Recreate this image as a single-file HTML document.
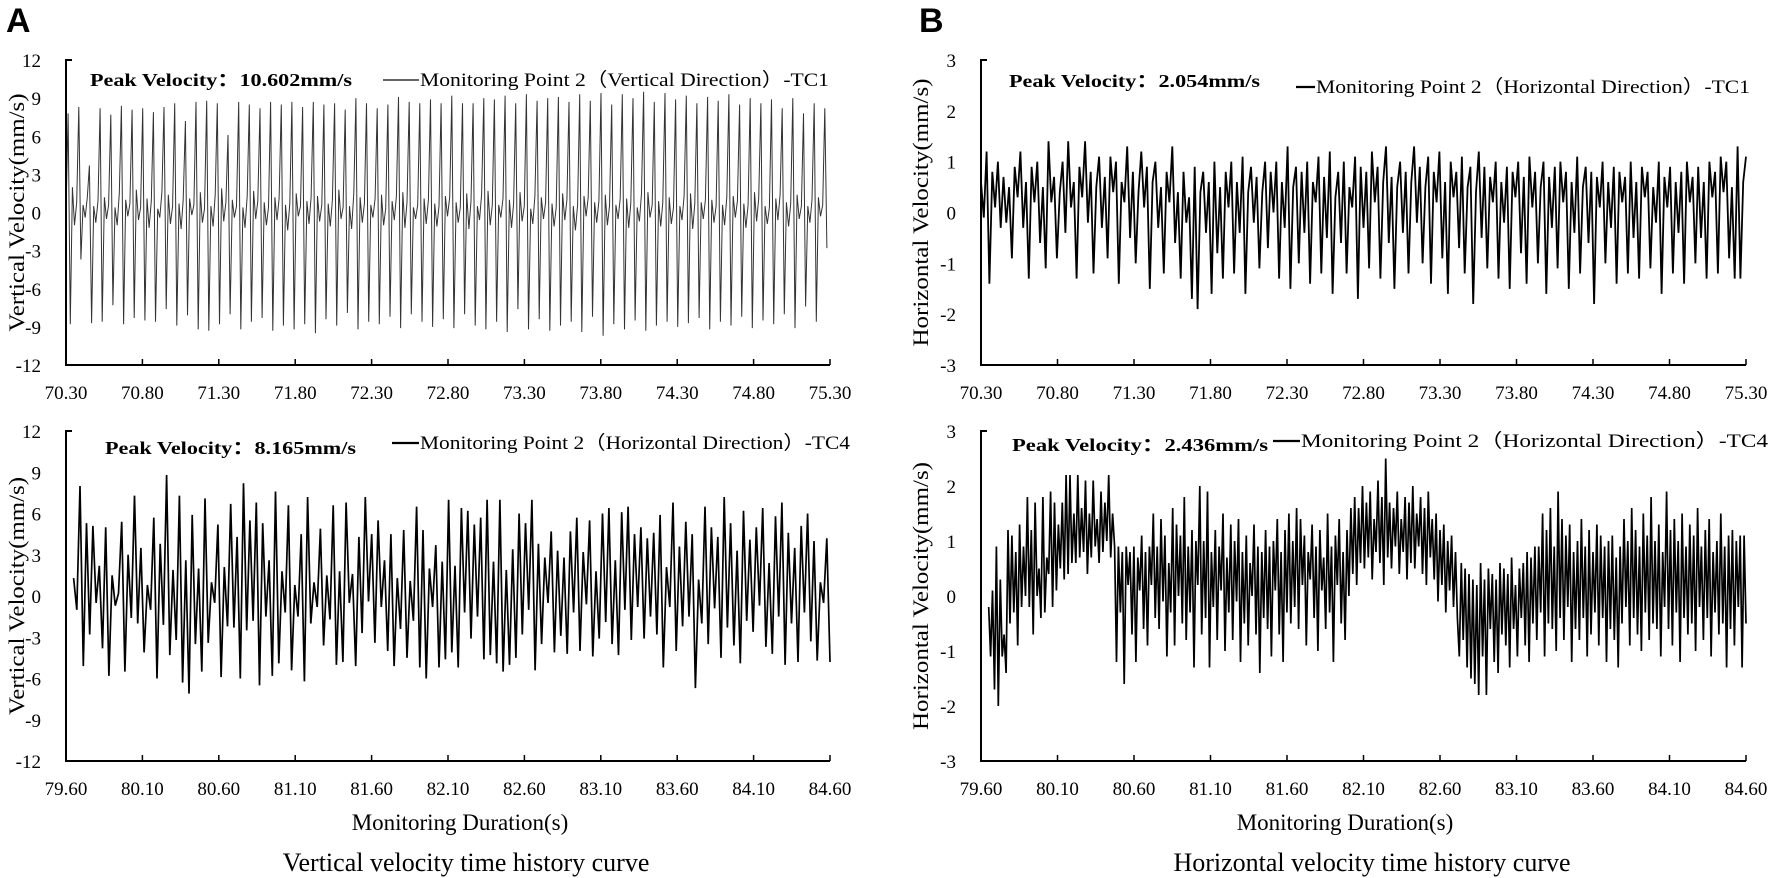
<!DOCTYPE html>
<html><head><meta charset="utf-8"><style>
html,body{margin:0;padding:0;background:#fff;}
svg{display:block;}
text{font-family:"Liberation Serif",serif;fill:#000;}
.pl{font-family:"Liberation Sans",sans-serif;font-weight:bold;font-size:34px;}
</style></head><body>
<svg id="fig" width="1772" height="878" viewBox="0 0 1772 878" xmlns="http://www.w3.org/2000/svg">
<text class="pl" x="6" y="32">A</text>
<text class="pl" x="919" y="32">B</text>
<text x="460" y="830" font-size="23" text-anchor="middle">Monitoring Duration(s)</text>
<text x="1345" y="830" font-size="23" text-anchor="middle">Monitoring Duration(s)</text>
<text x="466" y="871" font-size="26" text-anchor="middle">Vertical velocity time history curve</text>
<text x="1372" y="871" font-size="26" text-anchor="middle">Horizontal velocity time history curve</text>
</svg>
<script>
const xTicksTop = ["70.30","70.80","71.30","71.80","72.30","72.80","73.30","73.80","74.30","74.80","75.30"];
const xTicksBot = ["79.60","80.10","80.60","81.10","81.60","82.10","82.60","83.10","83.60","84.10","84.60"];
const yTicksV = [-12,-9,-6,-3,0,3,6,9,12];
const yTicksH = [-3,-2,-1,0,1,2,3];
const tRangeTop = [70.30, 75.28];
const tRangeBot = [79.65, 84.60];
const vertTC1 = [0.0,7.8,-8.8,2.0,-1.0,0.8,8.3,-3.7,0.6,-0.4,1.2,3.7,-8.7,0.5,-0.8,0.9,8.2,-8.6,1.2,-0.5,0.6,7.7,-7.3,0.4,-1.0,1.5,8.4,-8.8,1.0,-0.3,0.7,8.1,-8.3,1.8,-0.6,0.4,8.2,-8.5,1.1,-1.2,0.9,7.9,-8.6,0.3,-0.4,1.6,8.3,-7.6,1.4,-0.9,0.5,8.6,-8.9,0.7,-1.3,1.0,7.2,-8.1,1.1,-0.2,0.6,8.7,-9.2,1.6,-0.8,0.3,8.8,-9.3,0.5,-1.1,1.4,8.6,-8.8,1.9,-0.7,0.8,6.1,-8.0,1.0,-0.4,0.5,8.7,-9.2,0.4,-1.2,1.3,8.5,-8.6,1.7,-0.5,0.9,8.2,-8.3,0.8,-1.0,0.4,8.7,-9.3,1.2,-0.6,1.1,8.5,-8.9,0.6,-1.4,0.7,8.7,-9.2,1.5,-0.3,0.5,8.3,-8.8,0.9,-0.9,1.2,8.7,-9.5,1.3,-0.7,0.6,8.5,-8.4,0.7,-1.1,1.0,8.6,-8.9,1.8,-0.5,0.4,8.1,-7.9,0.5,-1.3,1.5,9.0,-9.2,1.2,-0.8,0.7,8.6,-8.6,0.6,-0.4,1.1,8.2,-8.8,1.4,-1.0,0.3,8.5,-8.2,0.9,-0.6,1.3,9.1,-9.1,1.6,-1.2,0.8,8.7,-8.0,0.4,-0.5,0.6,8.6,-8.6,1.1,-0.9,1.0,8.9,-9.0,0.7,-1.1,0.5,8.6,-8.4,1.3,-0.3,1.2,9.2,-9.1,0.8,-0.8,0.4,8.6,-8.0,1.5,-1.3,0.9,8.6,-8.9,0.5,-0.6,1.4,9.0,-9.2,1.7,-1.0,0.6,8.9,-8.6,0.6,-0.4,1.1,9.2,-9.4,1.0,-1.2,0.7,8.6,-7.6,1.6,-0.7,0.5,9.3,-9.2,0.3,-0.9,1.3,8.8,-8.4,1.2,-0.5,0.8,9.0,-9.3,0.7,-1.1,0.4,9.1,-8.9,1.5,-0.6,1.0,8.7,-8.6,0.5,-1.4,0.6,9.3,-9.4,1.3,-0.3,1.2,8.8,-8.2,0.8,-0.8,0.9,9.4,-9.7,1.4,-1.0,0.5,8.5,-8.8,0.6,-0.5,1.1,9.3,-9.2,1.1,-1.2,0.7,9.0,-8.5,0.4,-0.7,1.5,9.5,-9.3,1.6,-0.4,0.6,8.7,-8.9,0.9,-1.1,0.8,9.4,-8.6,1.2,-0.9,0.4,8.9,-9.0,0.5,-0.6,1.3,9.2,-8.7,1.5,-1.3,0.7,8.6,-8.3,0.8,-0.5,1.0,9.1,-9.2,1.0,-0.8,0.5,8.8,-8.6,0.6,-1.0,1.2,9.3,-8.9,1.3,-0.4,0.9,8.5,-8.2,0.7,-1.2,0.6,9.0,-9.1,1.6,-0.7,1.1,8.6,-8.5,0.5,-0.9,0.4,8.9,-8.8,1.1,-0.6,1.4,8.2,-8.0,0.8,-1.1,0.7,9.0,-9.1,1.4,-0.5,0.5,7.8,-7.4,0.5,-0.8,1.0,8.6,-8.6,1.2,-0.3,0.6,8.2,-2.8];
const vertTC4 = [1.3,-1.0,8.0,-5.1,5.3,-2.8,5.1,-0.5,2.2,-3.8,5.0,-5.8,1.5,-0.7,0.2,5.4,-5.5,3.0,-1.6,7.3,-2.0,3.5,-4.1,0.8,-1.0,5.7,-6.0,3.8,-2.1,8.8,-4.3,1.9,-3.2,7.3,-6.3,2.6,-7.1,5.9,-3.5,2.0,-5.5,7.1,-3.4,1.0,-0.5,5.2,-5.9,2.1,-2.2,6.7,-2.3,4.3,-6.0,8.2,-2.5,5.5,-1.8,6.8,-6.5,5.3,-1.5,2.6,-5.8,7.6,-4.9,1.8,-1.2,6.6,-5.4,0.8,-1.5,4.5,-6.2,7.2,-2.0,1.0,-0.8,4.9,-3.6,1.5,-1.7,6.6,-5.0,1.8,-4.8,6.8,-0.5,1.6,-5.1,4.3,-2.7,7.2,-0.4,4.5,-3.4,5.5,-0.8,2.6,-4.0,4.5,-5.1,1.3,-2.4,4.8,-4.5,1.1,-1.8,6.5,-5.2,4.8,-6.0,2.0,-0.8,3.7,-5.2,2.5,-4.6,7.0,-4.1,2.2,-5.2,6.4,-1.2,6.2,-3.1,5.2,-1.5,5.7,-4.6,7.0,-4.3,2.5,-4.9,7.0,-5.5,1.9,-5.0,3.4,-4.5,6.0,-2.8,5.3,-1.0,7.0,-5.4,3.8,-3.5,2.8,-0.5,4.7,-4.1,3.3,-2.9,2.8,-4.2,4.7,-1.2,5.7,-4.0,3.2,-0.6,5.5,-4.4,1.8,-3.1,6.0,-1.9,6.4,-3.5,2.6,-4.3,6.1,-1.0,6.5,-3.2,4.5,-0.8,5.0,-3.1,4.2,-1.5,4.6,-2.8,5.9,-5.2,2.1,-0.8,6.8,-4.0,3.6,-2.2,5.4,-1.5,4.5,-6.7,1.2,-2.0,6.5,-3.5,5.0,-0.9,4.3,-4.5,7.2,-2.3,5.3,-3.6,3.3,-4.9,6.2,-1.8,4.1,-2.6,5.0,-0.7,6.4,-3.7,2.4,-4.2,5.8,-1.5,6.8,-5.0,4.6,-2.0,3.5,-4.8,5.1,-1.2,6.0,-3.3,4.0,-4.7,1.0,-0.5,4.2,-4.8];
const horTC1 = [0.6,-0.1,1.2,-1.4,0.8,0.1,1.0,-0.3,0.7,-0.2,0.5,-0.9,0.9,0.3,1.2,-0.3,0.6,-1.3,0.9,0.2,1.0,-0.6,0.5,-1.1,1.4,0.2,0.7,-0.9,0.4,1.0,-0.4,1.4,0.1,0.6,-1.3,0.9,0.3,1.4,-0.2,0.8,-1.2,0.5,1.1,-0.3,0.7,-0.9,1.1,0.4,1.0,-1.4,0.6,0.2,1.3,-0.5,0.8,-1.0,0.4,1.2,0.1,0.9,-1.5,0.6,1.0,-0.3,0.5,-1.2,0.8,0.2,1.3,-0.6,0.4,-1.3,0.8,-0.2,0.3,-1.7,0.9,-1.9,0.4,0.8,-0.4,0.6,-1.6,1.0,-0.8,0.5,-1.3,0.8,0.1,1.0,-1.2,0.6,-0.4,1.1,-1.6,0.4,0.9,-0.2,0.7,-1.1,0.4,1.0,-0.7,0.8,0.0,1.0,-1.3,0.6,-0.3,1.3,-1.5,0.5,0.9,-1.0,0.8,-0.4,1.0,-1.4,0.6,0.2,1.1,-1.2,0.7,-0.5,1.2,-1.6,0.3,0.8,-0.6,1.0,-1.2,0.5,0.1,1.1,-1.7,0.9,-0.3,0.8,-1.1,1.2,0.2,0.9,-1.3,0.6,1.3,-0.6,0.7,-1.5,0.5,1.0,-0.4,0.8,-1.2,0.6,1.3,-0.2,0.9,-1.0,0.5,1.1,-1.4,0.8,0.2,1.2,-0.9,0.6,-1.6,1.0,0.3,0.8,-0.7,1.1,-1.2,0.5,0.9,-1.8,0.4,1.2,-0.5,0.9,-1.1,0.7,0.2,1.0,-1.3,0.6,-0.2,0.9,-1.5,0.8,0.3,1.0,-0.8,0.7,-1.4,1.1,0.1,0.8,-1.0,0.5,1.0,-1.6,0.7,-0.3,0.9,-1.1,1.0,0.2,0.8,-1.5,0.6,-0.4,1.1,-1.2,0.5,0.9,-0.6,0.8,-1.8,0.7,0.1,1.0,-1.0,0.6,-0.3,0.9,-1.4,0.8,0.2,0.7,-1.2,1.0,-0.5,0.6,-1.3,0.9,0.3,0.8,-1.1,0.5,-0.2,1.0,-1.6,0.7,0.1,0.9,-1.2,0.6,-0.4,0.8,-1.4,1.0,0.2,0.7,-1.0,0.9,-0.5,0.6,-1.3,1.0,0.3,0.8,-1.2,1.1,0.4,1.0,-0.9,0.5,-1.3,1.3,-1.3,0.6,1.1];
const horTC4 = [-0.2,-1.1,0.1,-1.7,0.9,-2.0,0.3,-1.1,
 -0.7,-1.4,1.2,-0.5,1.1,-0.3,0.8,-0.9,1.3,-0.2,0.9,0.0,1.8,-0.2,1.2,-0.7,1.7,0.0,0.5,-0.4,1.8,-0.3,0.7,0.4,1.9,-0.2,1.7,0.1,1.3,0.5,1.7,0.3,2.2,0.4,2.2,0.6,1.5,0.6,2.2,0.7,1.6,0.8,2.1,0.4,1.5,0.7,2.1,0.9,1.4,0.6,1.9,0.8,1.7,1.0,2.2,0.7,1.5,0.9,
 -1.2,0.9,-0.3,0.8,-1.6,0.9,0.2,0.8,-0.7,0.9,-1.2,0.7,0.1,1.1,-0.6,0.8,-0.9,0.9,0.2,1.5,-0.4,0.9,-0.6,1.4,-0.1,1.1,-1.1,0.6,-0.3,1.6,-0.9,1.3,0.0,1.1,-0.5,1.8,-0.8,0.9,-0.3,1.2,-1.3,1.0,0.2,2.0,-0.7,1.0,-0.4,1.9,-1.3,0.8,-0.2,1.2,-0.8,0.9,0.1,1.5,-1.0,0.7,-0.3,1.3,-0.8,1.0,-0.1,1.4,-1.2,0.8,-0.5,1.1,-0.9,0.6,0.0,1.3,-0.7,0.9,-1.4,0.8,-0.4,1.2,-0.6,0.9,-1.1,1.0,0.1,1.4,-0.7,0.8,-1.2,1.2,-0.3,1.5,-0.5,1.0,-0.2,1.6,-0.6,1.4,0.2,1.1,-0.9,0.8,0.3,1.3,-0.4,0.9,-1.0,1.2,0.1,0.7,-0.6,1.5,-0.3,0.9,-1.2,1.1,0.2,1.4,-0.5,0.8,-0.8,1.2,0.0,
 1.6,0.4,1.8,0.2,1.6,0.6,2.0,0.5,1.7,0.7,1.9,0.3,1.4,0.8,2.1,0.6,1.8,0.2,2.5,0.7,1.7,0.5,1.6,0.9,1.9,0.4,1.4,0.8,1.8,0.3,1.7,0.6,2.0,0.5,1.5,0.9,1.8,0.4,1.6,0.2,1.9,0.7,1.4,0.3,1.5,-0.1,1.2,0.2,1.3,-0.3,1.0,0.1,1.1,-0.2,0.8,-0.4,
 -1.1,0.6,-0.8,0.5,-1.3,0.4,-1.5,0.3,-1.6,0.2,-1.8,0.6,-1.1,0.3,-1.8,0.5,-0.6,0.4,-1.2,0.3,-1.4,0.6,-0.7,0.5,-0.9,0.4,-1.3,0.7,-0.6,0.2,-1.1,0.5,-0.4,0.6,-0.9,0.8,-1.2,0.7,-0.5,0.9,
 -0.8,0.9,-0.3,1.5,-1.1,1.2,-0.5,1.6,-0.6,0.9,-1.0,1.9,-0.4,1.4,-0.8,1.1,-0.2,1.3,-1.2,0.8,-0.6,1.0,-0.8,1.4,-0.4,0.9,-1.1,1.2,-0.7,0.8,-0.3,1.3,-0.9,1.1,-0.4,0.9,-1.2,1.0,-0.6,1.1,-0.8,0.7,-1.3,0.9,-0.5,1.4,-0.2,1.0,-0.9,1.6,-0.4,1.2,-0.7,0.9,-1.0,1.5,-0.3,1.1,-0.8,1.8,-0.5,1.0,-0.6,1.3,-1.1,0.8,-0.2,1.9,-0.6,1.2,-0.9,1.4,-0.3,1.0,-1.2,1.5,-0.4,0.9,-0.7,1.3,-0.5,1.1,-1.0,1.6,-0.2,0.9,-0.8,1.2,-0.4,1.4,-1.1,0.8,-0.3,1.0,-0.7,1.5,-0.5,0.9,-1.3,1.1,-0.6,1.2,-0.9,1.0,-0.2,1.1,-1.3,1.1,-0.5];

const NS = "http://www.w3.org/2000/svg";
const svg = document.getElementById("fig");
function mk(tag, attrs, parent){ const e=document.createElementNS(NS,tag); for(const k in attrs) e.setAttribute(k,attrs[k]); (parent||svg).appendChild(e); return e; }

function panel(cfg){
  const g = mk("g",{});
  
  
  const yScale = v => cfg.y1 - (v - cfg.ymin)/(cfg.ymax - cfg.ymin)*(cfg.y1 - cfg.y0);
  const tx = cfg.xTicks.map(Number);
  const xScale = t => cfg.x0 + (t - tx[0])/(tx[tx.length-1]-tx[0])*(cfg.x1 - cfg.x0);
  const n = cfg.data.length;
  let d = "";
  cfg.data.forEach((v,i)=>{ const t = cfg.tRange[0] + i*(cfg.tRange[1]-cfg.tRange[0])/(n-1); d += (i?"L":"M")+xScale(t).toFixed(1)+" "+yScale(v).toFixed(1); });
  const p = mk("path",{d:d,fill:"none",stroke:cfg.color,"stroke-width":cfg.sw,"stroke-linejoin":"miter"},g);
  
  
  const ax = mk("path",{d:`M${cfg.x0+6} ${cfg.y0}H${cfg.x0}V${cfg.y1}H${cfg.x1}`,fill:"none",stroke:"#000","stroke-width":2},g);
  
  
  cfg.xTicks.forEach((lab,i)=>{
    const x = xScale(Number(lab));
    if(i>0) mk("line",{x1:x,x2:x,y1:cfg.y1,y2:cfg.y1-6,stroke:"#000","stroke-width":1.5},g);
    const t = mk("text",{x:x,y:cfg.y1+34,"font-size":19,"text-anchor":"middle"},g);
    t.textContent = lab;
    
    
  });
  cfg.yTicks.forEach(v=>{
    const t = mk("text",{x:cfg.x0-25,y:yScale(v)+7,"font-size":19,"text-anchor":"end"},g);
    t.textContent = String(v);
    
    
  });
  const cy = (cfg.y0+cfg.y1)/2;
  const yt = mk("text",{x:0,y:0,"font-size":22,"text-anchor":"middle",transform:`translate(${cfg.ytx},${cy}) rotate(-90)`,textLength:cfg.ytLen,lengthAdjust:"spacingAndGlyphs"},g);
  yt.textContent = cfg.yTitle;
  
  
  const pk = mk("text",{x:cfg.pk[0],y:cfg.pk[2]+6,"font-size":18,"font-weight":"bold",textLength:cfg.pk[1]-cfg.pk[0],lengthAdjust:"spacingAndGlyphs"},g);
  pk.textContent = cfg.peak;
  
  
  const lg = mk("line",{x1:cfg.lg[0],x2:cfg.lg[1],y1:cfg.lg[3],y2:cfg.lg[3],stroke:cfg.color,"stroke-width":cfg.sw+0.5},g);
  
  
  const lt = mk("text",{x:cfg.lg[1]+1,y:cfg.lg[3]+6,"font-size":19,textLength:cfg.lg[2]-cfg.lg[1]-1,lengthAdjust:"spacingAndGlyphs"},g);
  lt.textContent = cfg.legend;
  
  
}

panel({name:"chart-vertical-tc1",x0:66,x1:830,y0:60,y1:365,ymin:-12,ymax:12,xTicks:xTicksTop,yTicks:yTicksV,tRange:tRangeTop,data:vertTC1,color:"#333",sw:1,
  ytx:24,ytLen:238,yTitle:"Vertical  Velocity(mm/s)",peak:"Peak Velocity：10.602mm/s",pk:[90,352,80],lg:[383,419,829,80],legend:"Monitoring Point 2（Vertical Direction）-TC1"});
panel({name:"chart-vertical-tc4",x0:66,x1:830,y0:431,y1:761,ymin:-12,ymax:12,xTicks:xTicksBot,yTicks:yTicksV,tRange:tRangeBot,data:vertTC4,color:"#000",sw:1.7,
  ytx:24,ytLen:238,yTitle:"Vertical  Velocity(mm/s)",peak:"Peak Velocity：8.165mm/s",pk:[105,356,448],lg:[392,419,850,443],legend:"Monitoring Point 2（Horizontal Direction）-TC4"});
panel({name:"chart-horizontal-tc1",x0:981,x1:1746,y0:60,y1:365,ymin:-3,ymax:3,xTicks:xTicksTop,yTicks:yTicksH,tRange:[70.30,75.30],data:horTC1,color:"#000",sw:1.8,
  ytx:928,ytLen:268,yTitle:"Horizontal  Velocity(mm/s)",peak:"Peak Velocity：2.054mm/s",pk:[1009,1260,81],lg:[1296,1315,1750,87],legend:"Monitoring Point 2（Horizontal Direction）-TC1"});
panel({name:"chart-horizontal-tc4",x0:981,x1:1746,y0:431,y1:761,ymin:-3,ymax:3,xTicks:xTicksBot,yTicks:yTicksH,tRange:[79.65,84.60],data:horTC4,color:"#000",sw:1.7,
  ytx:928,ytLen:268,yTitle:"Horizontal  Velocity(mm/s)",peak:"Peak Velocity：2.436mm/s",pk:[1012,1268,445],lg:[1273,1300,1768,441],legend:"Monitoring Point 2（Horizontal Direction）-TC4"});
</script>
</body></html>
